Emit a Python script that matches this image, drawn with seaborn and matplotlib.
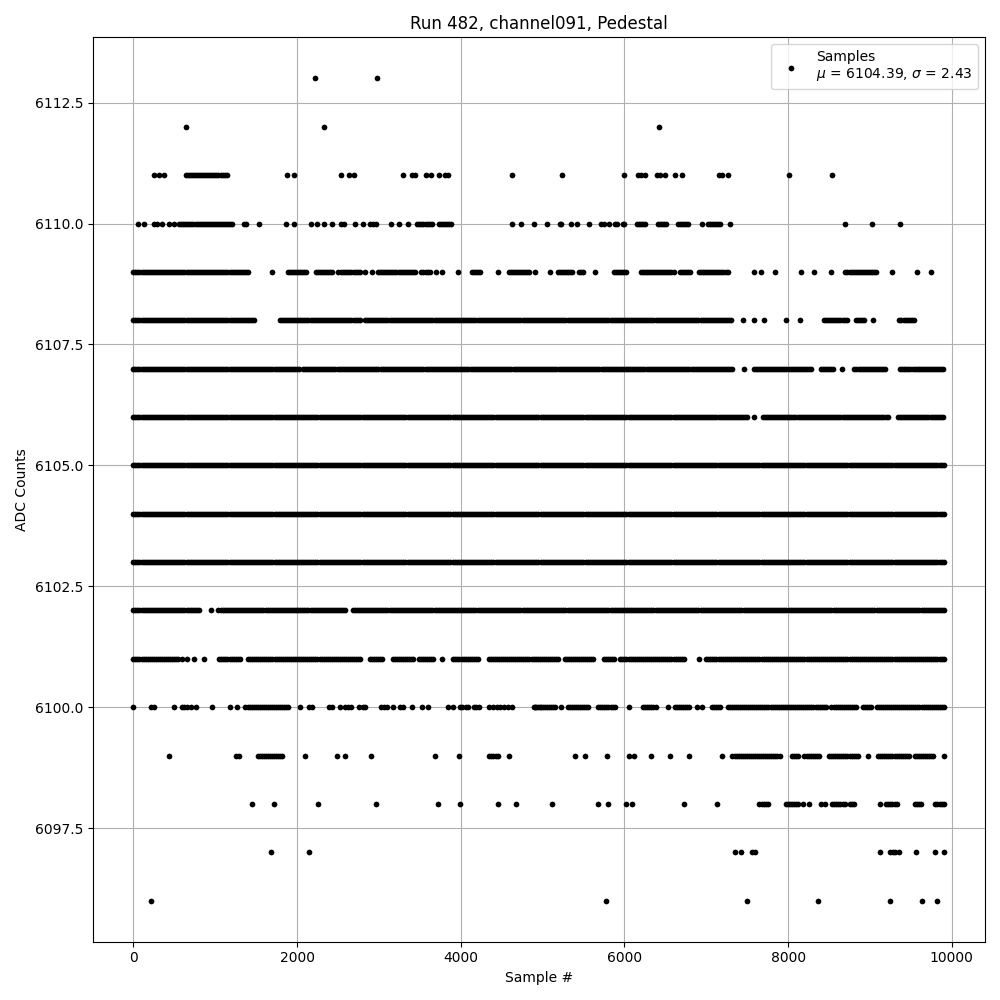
import numpy as np
import pandas as pd
import seaborn as sns
import matplotlib
matplotlib.use('Agg')
import matplotlib.pyplot as plt

# ADC levels and, per level, the sample ranges where points form a solid row
# (runs) plus isolated samples (pts)
levels = list(range(6096, 6114))

runs_6113 = []
pts_6113 = [2220, 2980]

runs_6112 = []
pts_6112 = [640, 2330, 6420]

runs_6111 = [(640, 1150)]
pts_6111 = [250, 310, 370, 1880, 1960, 2540, 2630, 2700, 3300, 3400, 3440, 3580, 3640,
            3730, 3810, 3850, 4630, 5240, 6000, 6160, 6200, 6250, 6400, 6440, 6500,
            6620, 6700, 7150, 7190, 7270, 8010, 8540]

runs_6110 = [(560, 1210), (3470, 3660), (3730, 3890), (6150, 6270), (6410, 6520),
             (6650, 6790), (7020, 7170)]
pts_6110 = [60, 130, 250, 290, 350, 440, 500, 1350, 1380, 1530, 1870, 1960, 2170, 2240,
            2330, 2430, 2540, 2570, 2710, 2810, 2890, 2930, 2970, 3150, 3240, 3360,
            4630, 4740, 4890, 5060, 5210, 5230, 5350, 5420, 5570, 5710, 5750, 5810,
            5890, 5910, 5980, 6000, 6950, 7290, 8700, 9020, 9370]

runs_6109 = [(0, 1415), (1890, 2130), (2230, 2440), (2540, 2770), (2990, 3440),
             (3520, 3620), (4140, 4260), (4590, 4850), (5190, 5370), (5440, 5500),
             (5870, 6030), (6200, 6620), (6680, 6810), (6910, 7260), (8700, 9080)]
pts_6109 = [1700, 2500, 2830, 2910, 3700, 3770, 3970, 4460, 4910, 5090, 5640, 7580,
            7670, 7840, 8160, 8320, 8520, 9270, 9570, 9740]

runs_6108 = [(0, 1480), (1790, 2770), (2830, 7320), (8440, 8730), (8830, 8950),
             (9360, 9550)]
pts_6108 = [7450, 7580, 7710, 7970, 8140, 9040]

runs_6107 = [(0, 2030), (2070, 7320), (7580, 8300), (8400, 8560), (8810, 9200),
             (9370, 9910)]
pts_6107 = [7460, 8660]

runs_6106 = [(0, 7520), (7690, 9220), (9340, 9910)]
pts_6106 = [7580]

runs_6105 = [(0, 9910)]
pts_6105 = []

runs_6104 = [(0, 9910)]
pts_6104 = []

runs_6103 = [(0, 9910)]
pts_6103 = []

runs_6102 = [(0, 820), (1040, 2600), (2680, 9910)]
pts_6102 = [945]

runs_6101 = [(0, 560), (1050, 1310), (1400, 2790), (2890, 3050), (3170, 3420),
             (3490, 3670), (3910, 4220), (4340, 5210), (5270, 5640), (5750, 5890),
             (5950, 6740), (7000, 9910)]
pts_6101 = [600, 660, 740, 860, 3770, 6910]

runs_6100 = [(1370, 1910), (4900, 5150), (5310, 5580), (5680, 5890), (6230, 6400),
             (6620, 6810), (7070, 7170), (7260, 8470), (8530, 8850), (8910, 9010),
             (9080, 9910)]
pts_6100 = [0, 210, 250, 500, 590, 620, 650, 700, 760, 960, 1180, 1270, 2040, 2150,
            2180, 2390, 2430, 2520, 2580, 2620, 2660, 2760, 2800, 2830, 3020, 3060,
            3100, 3170, 3260, 3300, 3400, 3530, 3600, 3840, 3900, 3990, 4020, 4060,
            4090, 4160, 4190, 4220, 4340, 4400, 4440, 4480, 4530, 4580, 4630, 4910,
            4970, 5220, 6060, 6530, 6890, 6950]

runs_6099 = [(1520, 1820), (4350, 4460), (7320, 7910), (8050, 8130), (8200, 8380),
             (8500, 8870), (9100, 9480), (9550, 9790)]
pts_6099 = [430, 1250, 1290, 2100, 2490, 2580, 2900, 3690, 3980, 4590, 5400, 5520,
            5790, 6060, 6120, 6330, 6560, 6790, 7190, 8980, 9900]

runs_6098 = [(7650, 7770), (7970, 8130), (8540, 8690), (8750, 8810), (9200, 9340),
             (9550, 9630), (9800, 9910)]
pts_6098 = [1450, 1720, 2260, 2960, 3720, 3990, 4450, 4680, 5120, 5680, 5800, 6020,
            6090, 6730, 7130, 8180, 8260, 8400, 8450, 9120]

runs_6097 = []
pts_6097 = [1680, 2150, 7350, 7420, 7560, 7600, 9120, 9250, 9280, 9310, 9360, 9560,
            9790, 9910]

runs_6096 = []
pts_6096 = [210, 5780, 7500, 8370, 9240, 9640, 9820]

mu, sigma = 6104.39, 2.43

all_runs = [runs_6096, runs_6097, runs_6098, runs_6099, runs_6100, runs_6101,
            runs_6102, runs_6103, runs_6104, runs_6105, runs_6106, runs_6107,
            runs_6108, runs_6109, runs_6110, runs_6111, runs_6112, runs_6113]
all_pts = [pts_6096, pts_6097, pts_6098, pts_6099, pts_6100, pts_6101,
           pts_6102, pts_6103, pts_6104, pts_6105, pts_6106, pts_6107,
           pts_6108, pts_6109, pts_6110, pts_6111, pts_6112, pts_6113]

xs, ys = [], []
for lvl, runs, pts in zip(levels, all_runs, all_pts):
    for a, b in runs:
        seg = np.arange(a, b + 1, 25)
        xs.extend(seg)
        ys.extend([lvl] * len(seg))
    xs.extend(pts)
    ys.extend([lvl] * len(pts))

df = pd.DataFrame({'sample': xs, 'adc': ys})

f, ax = plt.subplots(figsize=(10, 10))
sns.scatterplot(x='sample', y='adc', data=df, ax=ax, color='black', s=17,
                linewidth=0, label='Samples\n$\\mu$ = %.2f, $\\sigma$ = %.2f' % (mu, sigma))

ax.set_title('Run 482, channel091, Pedestal')
ax.set_xlabel('Sample #')
ax.set_ylabel('ADC Counts')
ax.grid(True)
ax.set_axisbelow(True)
ax.legend(loc='upper right')

plt.tight_layout()
f.savefig('out.png', dpi=100)
